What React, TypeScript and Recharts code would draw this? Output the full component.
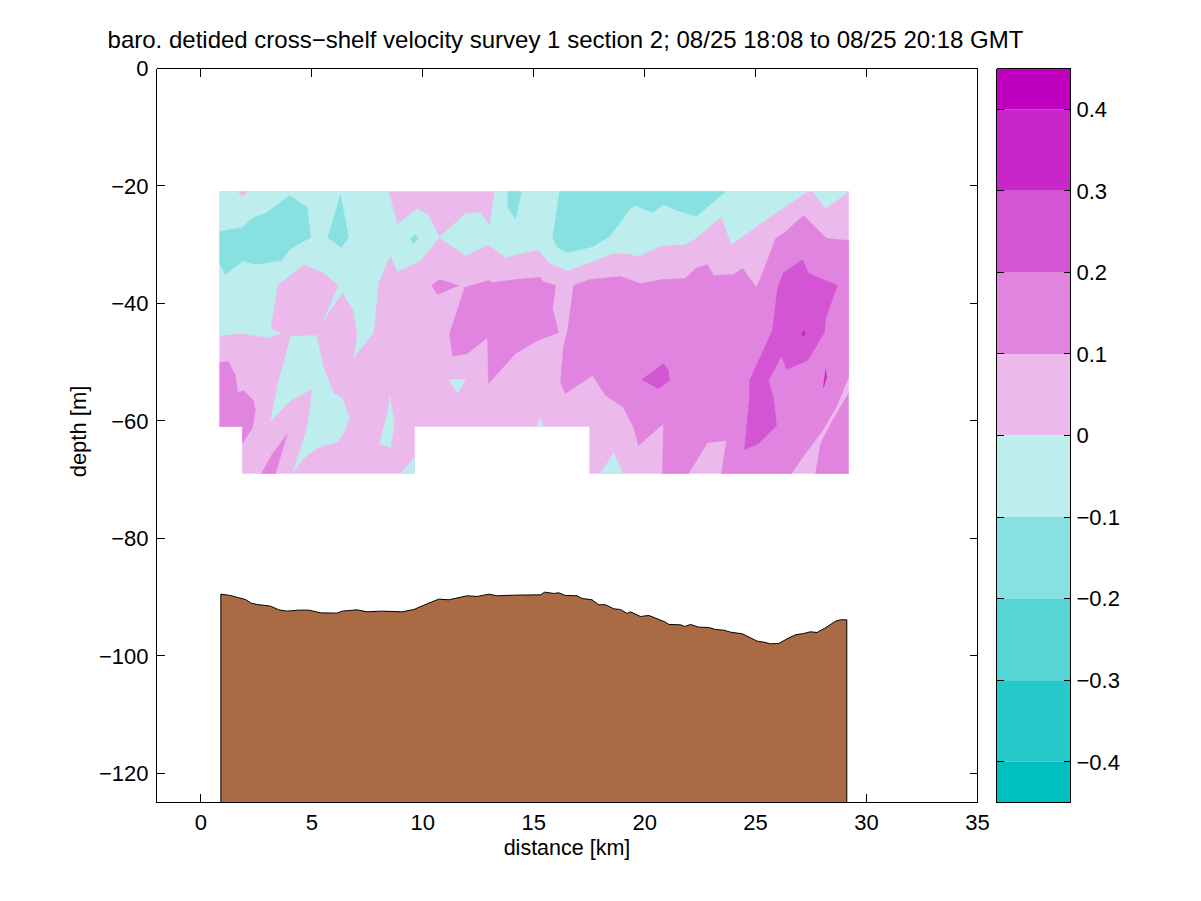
import { BarChart, Bar, ScatterChart, Scatter, XAxis, YAxis } from "recharts"

type Pt = [number, number]

const font = "'Liberation Sans', Arial, sans-serif"
const labelSize = 22

const title = "baro. detided cross\u2212shelf velocity survey 1 section 2; 08/25 18:08 to 08/25 20:18 GMT"
const distanceTicks = [0, 5, 10, 15, 20, 25, 30, 35]
const depthTicks = [0, -20, -40, -60, -80, -100, -120]
const levelTicks = [0.4, 0.3, 0.2, 0.1, 0, -0.1, -0.2, -0.3, -0.4]

// colour bands, centre outward
const posBands = [0.1, 0.1, 0.1, 0.1, 0.05]
const negBands = [-0.1, -0.1, -0.1, -0.1, -0.05]
const posColors = ["#ECB9EC", "#E084E0", "#D455D4", "#C926C9", "#BF00BF"]
const negColors = ["#BEEDED", "#88E1E1", "#55D5D5", "#26C9C9", "#00BFBF"]

const [pale, mid, strong] = posColors
const [cyan, deepCyan] = negColors
const bottomColor = "#AA6B44"

// filled contour regions, km and metres
const section: Pt[] = [[0.84, -20.95], [29.19, -20.95], [29.19, -68.97], [17.52, -68.97], [17.52, -60.97], [9.63, -60.97], [9.63, -68.97], [1.87, -68.97], [1.87, -60.97], [0.84, -60.97]]

const cyanWest: Pt[] = [[0.84, -20.95], [8.45, -20.95], [8.86, -26.57], [9.76, -23.84], [10.26, -25.03], [10.75, -28.78], [9.9, -32.7], [8.86, -34.57], [8.55, -31.85], [8.0, -36.44], [7.78, -44.96], [6.88, -49.22], [7.06, -45.47], [6.88, -41.21], [6.38, -38.15], [5.53, -42.92], [6.2, -36.96], [5.53, -34.74], [4.62, -33.38], [3.45, -36.96], [3.14, -44.28], [3.59, -45.13], [3.05, -45.81], [1.78, -45.13], [0.84, -45.47]]
const cyanEast: Pt[] = [[13.23, -20.95], [29.19, -20.95], [28.15, -23.84], [27.57, -20.95], [27.34, -20.95], [26.21, -23.84], [25.22, -26.4], [23.91, -29.97], [23.46, -25.2], [22.29, -28.95], [21.84, -29.97], [20.71, -30.14], [19.72, -32.02], [19.27, -31.51], [18.55, -31.51], [17.56, -33.04], [16.52, -34.4], [15.67, -33.04], [15.22, -30.82], [14.4, -31.51], [13.73, -32.19], [12.96, -29.97], [11.93, -31.85], [10.75, -28.78], [11.93, -24.69], [12.6, -24.52], [13.01, -26.74]]
const cyanLower: Pt[] = [[4.04, -45.64], [5.21, -45.47], [5.53, -50.92], [5.98, -55.35], [6.38, -56.2], [6.7, -59.61], [6.43, -62.16], [6.2, -63.52], [5.26, -64.54], [4.62, -66.42], [4.13, -68.97], [4.8, -61.14], [5.03, -54.5], [4.04, -56.54], [3.14, -60.12], [3.5, -53.13]]
const cyanSliver: Pt[] = [[8.5, -55.69], [8.73, -60.46], [8.55, -64.54], [8.05, -63.86], [8.41, -58.75]]
const cyanCorner: Pt[] = [[9.63, -66.25], [9.63, -68.97], [9.0, -68.97]]
const cyanDrop: Pt[] = [[11.16, -52.96], [11.93, -52.96], [11.57, -55.35]]
const cyanSpike: Pt[] = [[15.26, -59.43], [15.44, -60.97], [15.17, -60.97]]
const cyanFoot: Pt[] = [[18.6, -65.4], [19.0, -68.97], [18.01, -68.97]]

const deepWest: Pt[] = [[0.84, -27.76], [1.87, -27.08], [2.37, -25.37], [2.91, -24.69], [3.99, -21.63], [4.8, -23.67], [4.94, -28.78], [4.04, -30.65], [3.63, -32.7], [2.46, -33.38], [1.92, -32.7], [1.11, -35.08], [0.84, -33.21]]
const deepSpike: Pt[] = [[6.29, -21.46], [6.65, -28.78], [6.34, -30.48], [5.71, -28.78]]
const deepDiamond: Pt[] = [[9.63, -28.27], [9.81, -28.95], [9.58, -29.8], [9.45, -28.95]]
const deepNotch: Pt[] = [[13.82, -20.95], [14.45, -20.95], [14.18, -25.55], [13.82, -23.67]]
const deepEast: Pt[] = [[16.16, -20.95], [23.64, -20.95], [22.34, -25.2], [21.48, -24.18], [20.85, -23.16], [20.35, -24.52], [19.59, -23.33], [19.36, -23.84], [18.46, -28.44], [17.69, -30.31], [16.52, -31.34], [16.07, -30.48], [15.85, -28.78]]

const paleNick: Pt[] = [[1.65, -20.95], [2.1, -20.95], [1.87, -21.8]]

const midWest: Pt[] = [[0.84, -50.07], [1.24, -49.9], [1.56, -52.28], [1.65, -55.18], [1.92, -54.84], [2.37, -56.54], [2.46, -58.24], [2.33, -61.14], [1.87, -63.86], [1.87, -60.97], [0.84, -60.97]]
const midWedge: Pt[] = [[3.9, -62.16], [3.36, -68.97], [2.73, -68.97], [3.23, -65.57]]
const midChip: Pt[] = [[10.39, -36.96], [10.75, -35.93], [11.61, -36.96], [10.66, -38.49]]
const midCentre: Pt[] = [[11.88, -37.3], [12.96, -36.1], [13.14, -36.44], [14.18, -35.93], [15.31, -35.59], [15.4, -36.27], [15.98, -36.96], [15.85, -40.87], [16.12, -44.96], [15.17, -46.32], [14.18, -48.54], [12.96, -53.64], [12.92, -45.81], [12.02, -48.54], [11.34, -49.05], [11.2, -45.13]]
const midEast: Pt[] = [[16.79, -36.96], [17.56, -35.93], [18.91, -35.42], [19.81, -36.61], [20.8, -35.93], [21.84, -35.76], [22.29, -34.06], [22.83, -33.38], [23.1, -35.25], [24.0, -35.08], [24.41, -34.06], [25.04, -37.3], [25.45, -33.55], [25.9, -28.95], [26.26, -28.1], [27.16, -25.03], [28.2, -28.95], [29.19, -29.29], [29.19, -52.62], [28.6, -57.9], [28.02, -61.65], [27.11, -66.25], [26.62, -68.97], [23.46, -68.97], [23.69, -63.35], [22.83, -63.69], [21.98, -68.97], [20.8, -68.97], [20.85, -60.46], [19.72, -64.2], [19.5, -61.14], [19.05, -57.73], [18.24, -55.69], [17.65, -52.28], [16.43, -55.35], [16.21, -53.47], [16.34, -47.51], [16.52, -44.62]]
const midCorner: Pt[] = [[29.19, -55.35], [28.47, -59.95], [27.93, -63.86], [27.7, -68.97], [29.19, -68.97]]

const strongEast: Pt[] = [[27.11, -32.53], [27.38, -34.91], [28.69, -36.96], [28.15, -42.58], [28.1, -44.96], [27.34, -49.73], [26.39, -51.26], [26.17, -48.88], [25.58, -53.13], [25.81, -56.2], [25.94, -60.8], [25.13, -63.86], [24.5, -64.88], [24.73, -56.03], [24.73, -53.13], [25.76, -44.62], [25.99, -37.47], [26.26, -34.74]]
const strongIsland: Pt[] = [[20.85, -50.24], [21.07, -51.43], [21.12, -53.13], [20.62, -54.5], [19.86, -52.96]]
const peakDot: Pt[] = [[27.16, -44.62], [27.25, -45.13], [27.16, -45.64], [27.07, -45.13]]
const peakSliver: Pt[] = [[28.15, -51.09], [28.2, -52.62], [28.06, -54.33], [28.1, -52.62]]

const bottomKm = [0.9, 1.33, 1.71, 2.01, 2.27, 2.54, 3.14, 3.51, 3.89, 4.41, 4.87, 5.39, 6.14, 6.37, 7.04, 7.49, 8.1, 8.62, 9.07, 9.6, 10.2, 10.72, 11.17, 12.0, 12.45, 12.98, 13.35, 14.1, 15.31, 15.49, 15.91, 16.13, 16.43, 16.96, 17.18, 17.63, 17.93, 18.24, 18.61, 18.91, 19.21, 19.36, 19.81, 20.19, 20.94, 21.09, 21.62, 21.8, 22.07, 22.44, 22.89, 23.19, 23.57, 23.87, 24.4, 25.07, 25.37, 25.67, 26.05, 26.42, 26.8, 27.17, 27.47, 27.77, 28.15, 28.6, 28.83, 29.11]
const bottomDepth = [-89.52, -89.74, -90.14, -90.43, -91.05, -91.28, -91.56, -92.19, -92.41, -92.24, -92.24, -92.7, -92.75, -92.41, -92.19, -92.53, -92.41, -92.47, -92.53, -92.13, -91.16, -90.37, -90.48, -89.8, -89.91, -89.52, -89.8, -89.69, -89.63, -89.18, -89.4, -89.29, -89.74, -89.8, -90.26, -90.48, -91.33, -91.33, -92.02, -92.13, -92.81, -92.53, -93.32, -93.15, -94.29, -94.68, -94.74, -95.02, -94.68, -95.14, -95.19, -95.54, -95.65, -95.99, -96.27, -97.52, -97.69, -97.98, -97.92, -97.12, -96.44, -96.22, -95.93, -96.05, -95.25, -94.12, -93.89, -93.89]
const floor = -125

const bottomShape: Pt[] = [
  ...bottomKm.map((km, i): Pt => [km, bottomDepth[i]]),
  [bottomKm[bottomKm.length - 1], floor],
  [bottomKm[0], floor],
  [bottomKm[0], bottomDepth[0]],
]

// painted back to front
const regions: [Pt[], string][] = [
  [section, pale],
  [cyanWest, cyan],
  [cyanEast, cyan],
  [cyanLower, cyan],
  [cyanSliver, cyan],
  [cyanCorner, cyan],
  [cyanDrop, cyan],
  [cyanSpike, cyan],
  [cyanFoot, cyan],
  [deepWest, deepCyan],
  [deepSpike, deepCyan],
  [deepDiamond, deepCyan],
  [deepNotch, deepCyan],
  [deepEast, deepCyan],
  [paleNick, pale],
  [midWest, mid],
  [midWedge, mid],
  [midChip, mid],
  [midCentre, mid],
  [midEast, mid],
  [midCorner, mid],
  [strongEast, strong],
  [strongIsland, strong],
  [peakDot, posColors[3]],
  [peakSliver, posColors[3]],
]

const minus = (v: number) => String(v).replace("-", "\u2212")
const tickStyle = { fontSize: labelSize, fontFamily: font, fill: "#000" }
const lineStyle = { stroke: "#000", strokeWidth: 1, shapeRendering: "crispEdges" }

const toPoints = (pts: Pt[]) => pts.map(([x, y]) => ({ x, y }))
const nothing = () => <g />

const bandRow = [
  Object.fromEntries([
    ["name", "levels"],
    ...posBands.map((v, i) => [`p${i}`, v]),
    ...negBands.map((v, i) => [`n${i}`, v]),
  ]),
]

function Section() {
  const xDomain = [-2, 35]
  const yDomain = [floor, 0]
  return (
    <ScatterChart width={1201} height={901} margin={{ top: 67.5, right: 223.5, bottom: 68.5, left: 96.5 }}>
      <XAxis
        xAxisId="km"
        type="number"
        dataKey="x"
        domain={xDomain}
        ticks={distanceTicks}
        interval={0}
        height={30}
        tickSize={-9}
        tickLine={lineStyle}
        axisLine={lineStyle}
        tickMargin={21}
        tick={tickStyle}
        label={{ value: "distance [km]", position: "insideBottom", offset: -22, style: { ...tickStyle, fontSize: 21.5 } }}
      />
      <XAxis xAxisId="kmTop" orientation="top" type="number" dataKey="x" domain={xDomain} allowDataOverflow ticks={distanceTicks} interval={0} height={1} tick={nothing} tickSize={-8} tickLine={lineStyle} axisLine={lineStyle} />
      <YAxis
        yAxisId="depth"
        type="number"
        dataKey="y"
        domain={yDomain}
        ticks={depthTicks}
        interval={0}
        width={60}
        tickSize={-8}
        tickLine={lineStyle}
        axisLine={lineStyle}
        tickMargin={16}
        tick={tickStyle}
        tickFormatter={minus}
        label={{ value: "depth [m]", angle: -90, position: "insideLeft", offset: -18, dy: -4, style: { ...tickStyle, textAnchor: "middle" } }}
      />
      <YAxis yAxisId="depthRight" orientation="right" type="number" domain={yDomain} allowDataOverflow ticks={depthTicks} interval={0} mirror tick={nothing} tickSize={8} tickLine={lineStyle} axisLine={lineStyle} />
      {/* carries the top axis, draws nothing itself */}
      <Scatter xAxisId="kmTop" yAxisId="depth" data={toPoints(section)} shape={nothing} isAnimationActive={false} />
      {regions.map(([pts, color], i) => (
        <Scatter
          key={i}
          xAxisId="km"
          yAxisId="depth"
          data={toPoints(pts)}
          line={{ fill: color, stroke: color, strokeWidth: 0.5 }}
          shape={nothing}
          isAnimationActive={false}
        />
      ))}
      <Scatter
        xAxisId="km"
        yAxisId="depth"
        data={toPoints(bottomShape)}
        line={{ fill: bottomColor, stroke: "#000", strokeWidth: 1 }}
        shape={nothing}
        isAnimationActive={false}
      />
    </ScatterChart>
  )
}

function ColorBar() {
  const domain = [-0.45, 0.45]
  return (
    <BarChart
      width={200}
      height={901}
      data={bandRow}
      stackOffset="sign"
      barCategoryGap={0}
      margin={{ top: 67.5, right: 9.5, bottom: 97.5, left: 56.5 }}
    >
      <XAxis xAxisId="band" dataKey="name" height={1} tick={false} tickLine={false} axisLine={lineStyle} />
      <XAxis xAxisId="bandTop" dataKey="name" orientation="top" height={1} tick={false} tickLine={false} axisLine={lineStyle} />
      <YAxis
        yAxisId="level"
        orientation="right"
        type="number"
        domain={domain}
        allowDataOverflow
        ticks={levelTicks}
        interval={0}
        width={60}
        tickLine={false}
        axisLine={lineStyle}
        tickMargin={0}
        tick={{ ...tickStyle, textAnchor: "start" }}
        tickFormatter={minus}
      />
      {posBands.map((_, i) => (
        <Bar key={`p${i}`} xAxisId="band" yAxisId="level" dataKey={`p${i}`} stackId="bands" fill={posColors[i]} isAnimationActive={false} />
      ))}
      {negBands.map((_, i) => (
        <Bar key={`n${i}`} xAxisId="band" yAxisId="level" dataKey={`n${i}`} stackId="bands" fill={negColors[i]} isAnimationActive={false} />
      ))}
      {/* after the bars so the ticks stay on top of the bands */}
      <YAxis yAxisId="levelIn" orientation="right" type="number" domain={domain} allowDataOverflow ticks={levelTicks} interval={0} mirror tick={nothing} tickSize={7} tickLine={lineStyle} axisLine={false} />
      <YAxis yAxisId="levelLeft" type="number" domain={domain} allowDataOverflow ticks={levelTicks} interval={0} mirror tick={nothing} tickSize={7} tickLine={lineStyle} axisLine={lineStyle} />
    </BarChart>
  )
}

export default function App() {
  return (
    <div style={{ position: "absolute", left: 0, top: 0, width: 1201, height: 901, overflow: "hidden", background: "#fff" }}>
      <Section />
      <div style={{ position: "absolute", left: 940, top: 0 }}>
        <ColorBar />
      </div>
      <div style={{ position: "absolute", left: 0, top: 27, width: 1131, textAlign: "center", fontFamily: font, fontSize: 24, lineHeight: "26px", color: "#000", whiteSpace: "nowrap" }}>
        {title}
      </div>
    </div>
  )
}
